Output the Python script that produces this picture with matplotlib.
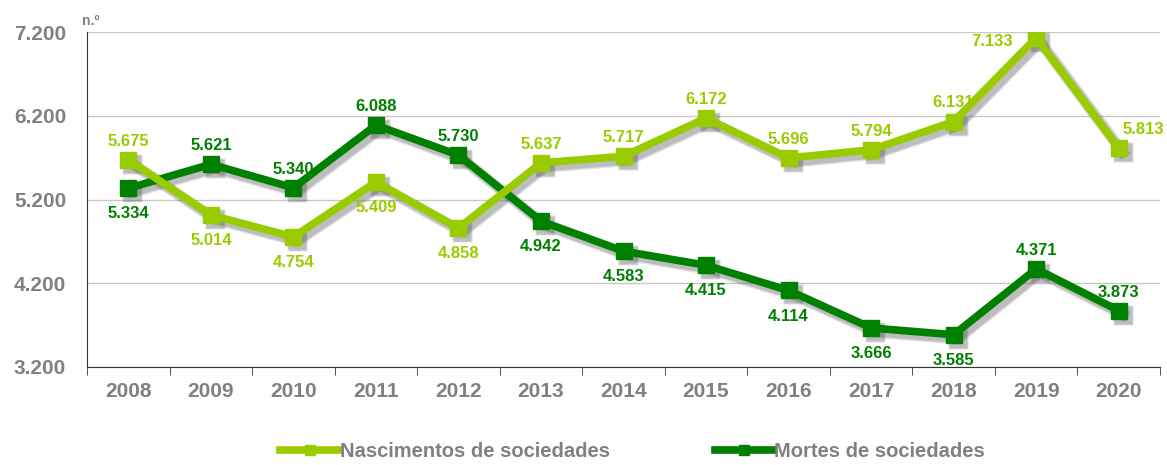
import numpy as np
import matplotlib
matplotlib.use("Agg")
import matplotlib.pyplot as plt
import matplotlib.transforms as mtransforms

plt.rcParams['font.family'] = ['Liberation Sans', 'DejaVu Sans']

# data
years = ['2008', '2009', '2010', '2011', '2012', '2013', '2014',
         '2015', '2016', '2017', '2018', '2019', '2020']
nascimentos = [5675, 5014, 4754, 5409, 4858, 5637, 5717, 6172, 5696, 5794, 6131, 7133, 5813]
mortes = [5334, 5621, 5340, 6088, 5730, 4942, 4583, 4415, 4114, 3666, 3585, 4371, 3873]

# where each value label sits relative to its point
pos_nasc = ['a', 'b', 'b', 'b', 'b', 'a', 'a', 'a', 'a', 'a', 'a', 'l', 'r']
pos_mort = ['b', 'a', 'a', 'a', 'a', 'b', 'b', 'b', 'b', 'b', 'b', 'a', 'a']

light = '#99cc00'
dark = '#008000'
grey = '#808080'

fig = plt.figure(figsize=(11.67, 4.65), dpi=100)
ax = fig.add_axes([0.0746, 0.2108, 0.9194, 0.7202])
x = np.arange(len(years))

# soft drop shadow: a few offset grey copies
for vals in (mortes, nascimentos):
    for d, a, w in [(4, 0.18, 8.5), (4, 0.25, 6.5)]:
        tr = ax.transData + mtransforms.ScaledTranslation(d / 100, -d / 100, fig.dpi_scale_trans)
        ax.plot(x, vals, color='#555555', alpha=a, lw=w, marker='s', ms=12 + (w - 5.5),
                mec='none', transform=tr, zorder=2)

ax.plot(x, mortes, color=dark, lw=5.5, marker='s', ms=12, solid_joinstyle='miter',
        label='Mortes de sociedades', zorder=3)
ax.plot(x, nascimentos, color=light, lw=5.5, marker='s', ms=12, solid_joinstyle='miter',
        label='Nascimentos de sociedades', zorder=4)

offs = {'a': ((0, 8), 'center', 'bottom'),
        'b': ((0, -13), 'center', 'top'),
        'l': ((-17, -3), 'right', 'center'),
        'r': ((3, 8), 'left', 'bottom')}

def fmt(v):
    return f'{v:,}'.replace(',', '.')

for vals, poss, col in [(nascimentos, pos_nasc, light), (mortes, pos_mort, dark)]:
    for i, (v, p) in enumerate(zip(vals, poss)):
        o, ha, va = offs[p]
        ax.annotate(fmt(v), (i, v), xytext=o, textcoords='offset points',
                    ha=ha, va=va, color=col, fontsize=12, fontweight='bold', zorder=6)

ax.set_xlim(-0.5, len(years) - 0.5)
ax.set_ylim(3200, 7200)
ax.set_yticks([3200, 4200, 5200, 6200, 7200])
ax.set_yticklabels([fmt(v) for v in [3200, 4200, 5200, 6200, 7200]])
ax.set_xticks(x)
ax.set_xticklabels(years)
ax.set_xticks(np.arange(-0.5, len(years), 1), minor=True)
ax.tick_params(axis='x', which='major', length=0, pad=11, labelsize=15, labelcolor=grey)
ax.tick_params(axis='x', which='minor', length=6, color='#333333', direction='out')
ax.tick_params(axis='y', length=0, pad=15, labelsize=15, labelcolor=grey)
for lab in ax.get_xticklabels() + ax.get_yticklabels():
    lab.set_fontweight('bold')

ax.grid(axis='y', color='#c8c8c8', lw=1)
ax.set_axisbelow(True)
for s in ['top', 'right']:
    ax.spines[s].set_visible(False)
ax.spines['left'].set_color('#333333')
ax.spines['bottom'].set_color('#333333')

fig.text(0.0703, 0.947, 'n.º', color=grey, fontsize=10, fontweight='bold')

h, l = ax.get_legend_handles_labels()
leg = fig.legend(h[::-1], l[::-1], loc='lower center', bbox_to_anchor=(0.542, -0.03), ncol=2,
                 frameon=False, handlelength=2.9, columnspacing=5.2, handletextpad=0.05,
                 prop={'size': 14.5, 'weight': 'bold'})
for t in leg.get_texts():
    t.set_color(grey)
for lh in leg.get_lines():
    lh.set_markersize(7)

fig.savefig('out.png', dpi=100)
